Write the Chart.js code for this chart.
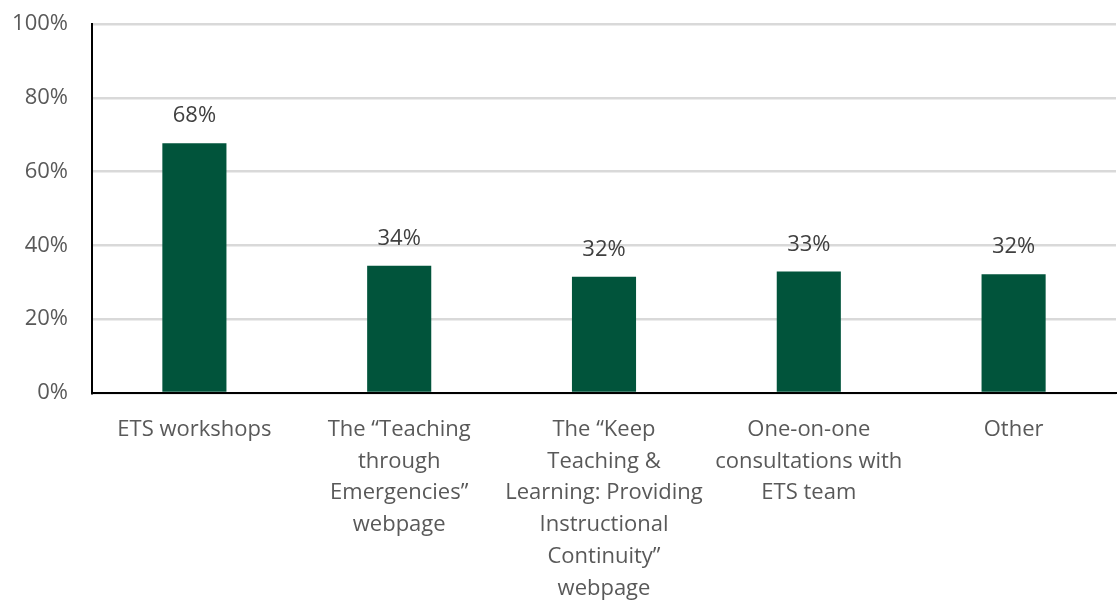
<!DOCTYPE html>
<html>
<head>
<meta charset="utf-8">
<script src="https://cdn.jsdelivr.net/npm/chart.js@4"></script>
<style>
  body { margin: 0; background: #fff; }
  #wrap { width: 1120px; height: 601px; }
</style>
</head>
<body>
<div id="wrap"><canvas id="barChart"></canvas></div>
<script>
const categories = [
  'ETS workshops',
  ['The \u201cTeaching', 'through', 'Emergencies\u201d', 'webpage'],
  ['The \u201cKeep', 'Teaching &', 'Learning: Providing', 'Instructional', 'Continuity\u201d', 'webpage'],
  ['One-on-one', 'consultations with', 'ETS team'],
  'Other'
]
const shares = [67.7, 34.5, 31.5, 32.9, 32.2]
const shareLabels = ['68%', '34%', '32%', '33%', '32%']
const yTicks = [0, 20, 40, 60, 80, 100]

const FONT = '"Open Sans", sans-serif'

// draws the value above each bar
const barLabels = {
  id: 'barLabels',
  afterDatasetsDraw(chart) {
    const ctx = chart.ctx
    const meta = chart.getDatasetMeta(0)
    ctx.save()
    ctx.font = '22px ' + FONT
    ctx.fillStyle = '#404040'
    ctx.textAlign = 'center'
    ctx.textBaseline = 'middle'
    meta.data.forEach((bar, i) => {
      ctx.fillText(shareLabels[i], bar.x, bar.y - 27)
    })
    ctx.restore()
  }
}

document.addEventListener('DOMContentLoaded', () => {
  const ctxBar = document.getElementById('barChart').getContext('2d')

  new Chart(ctxBar, {
    type: 'bar',
    data: {
      labels: categories,
      datasets: [
        {
          data: shares,
          backgroundColor: '#01543b',
          barPercentage: 0.313,
          categoryPercentage: 1,
        },
      ],
    },
    options: {
      responsive: true,
      maintainAspectRatio: false,
      animation: false,
      layout: { padding: { top: 0, right: 4, left: 0, bottom: 0 } },
      plugins: {
        legend: { display: false },
        tooltip: { enabled: false },
      },
      scales: {
        x: {
          grid: { display: false, drawTicks: false },
          border: { color: '#000', width: 2 },
          ticks: {
            color: '#595959',
            font: { family: FONT, size: 22, lineHeight: 1.44 },
            padding: 21,
            maxRotation: 0,
            autoSkip: false,
          },
          afterFit(scale) { scale.height = 208 },
        },
        y: {
          min: 0,
          max: 100,
          afterBuildTicks(scale) { scale.ticks = yTicks.map(v => ({ value: v })) },
          grid: { color: '#d9d9d9', lineWidth: 2.5, drawTicks: false },
          border: { color: '#000', width: 2 },
          ticks: {
            color: '#595959',
            font: { family: FONT, size: 22 },
            padding: 24,
            callback: v => v + '%',
          },
          afterFit(scale) {
            scale.width = 92
            scale.paddingTop = 24
            scale.paddingBottom = 0
          },
        },
      },
    },
    plugins: [barLabels],
  })
})
</script>
</body>
</html>
